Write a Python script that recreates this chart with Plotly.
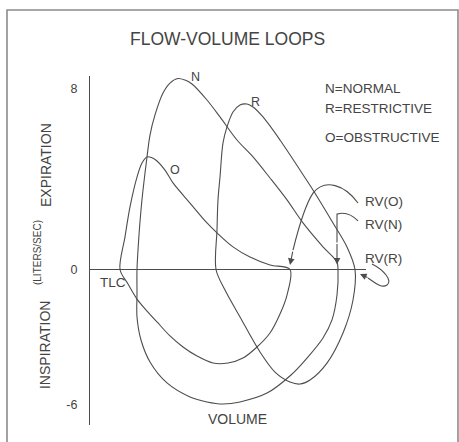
import plotly.graph_objects as go

# ---- data (volume in litres from the y-axis, flow in L/s) ----
# Normal loop
n_exp_volume = [1.175, 1.225, 1.275, 1.325, 1.425, 1.5, 1.625, 1.825, 2.0, 2.2, 2.375, 2.55,
                2.925, 3.25, 3.675, 4.075, 4.5, 4.925, 5.325, 5.825, 6.175, 6.2]
n_exp_flow = [0, 1.53, 2.63, 3.52, 4.98, 5.95, 6.84, 7.81, 8.25, 8.45, 8.38, 8.21,
              7.5, 6.75, 5.73, 4.98, 4.05, 3.08, 2.06, 1.0, 0.33, 0]
n_insp_volume = [6.2, 6.175, 6.05, 5.825, 5.425, 5.025, 4.425, 3.75, 3.325, 2.925, 2.5,
                 1.925, 1.5, 1.275, 1.175, 1.175, 1.175]
n_insp_flow = [0, -1.13, -2.23, -3.03, -3.92, -4.67, -5.47, -5.86, -5.95, -5.86, -5.64,
               -5.02, -4.09, -3.12, -2.1, -1.04, 0]

# Restrictive loop
r_exp_volume = [3.15, 3.175, 3.2, 3.25, 3.325, 3.425, 3.575, 3.75, 3.925, 4.075, 4.325,
                4.75, 5.25, 5.575, 6.075, 6.425, 6.625]
r_exp_flow = [0, 1.75, 3.08, 4.09, 5.6, 6.31, 6.97, 7.28, 7.32, 7.19, 6.75,
              5.73, 4.4, 3.52, 2.06, 1.0, 0]
r_insp_volume = [6.625, 6.575, 6.325, 5.925, 5.5, 5.25, 5.0, 4.625, 4.25, 3.75, 3.375, 3.15]
r_insp_flow = [0, -1.35, -2.81, -4.14, -4.89, -5.07, -4.98, -4.54, -3.65, -2.1, -0.91, 0]

# Obstructive loop
o_exp_volume = [0.75, 0.875, 1.0, 1.175, 1.3, 1.425, 1.55, 1.675, 1.875, 2.075, 2.5,
                2.925, 3.175, 3.575, 4.0, 4.5, 5.0]
o_exp_flow = [0, 1.44, 2.77, 4.09, 4.71, 4.98, 4.94, 4.8, 4.4, 3.83, 2.94,
              2.06, 1.62, 1.0, 0.55, 0.2, 0]
o_insp_volume = [5.0, 4.925, 4.75, 4.5, 4.175, 3.825, 3.45, 3.075, 2.675, 2.325, 2.0,
                 1.675, 1.425, 1.175, 0.95, 0.75]
o_insp_flow = [0, -1.13, -1.97, -2.81, -3.43, -3.92, -4.14, -4.14, -3.83, -3.43, -2.94,
               -2.32, -1.84, -1.31, -0.64, 0]

y_tick_values = [8, 0, -6]
y_tick_labels = ["8", "0", "-6"]

loops = [
    ("N", n_exp_volume, n_exp_flow, n_insp_volume, n_insp_flow),
    ("R", r_exp_volume, r_exp_flow, r_insp_volume, r_insp_flow),
    ("O", o_exp_volume, o_exp_flow, o_insp_volume, o_insp_flow),
]

LINE = "#4d4d4d"
TEXT = "#444444"
FONT = "Liberation Sans, Arial, sans-serif"

fig = go.Figure()
for name, ev, ef, iv, inf in loops:
    fig.add_trace(go.Scatter(
        x=ev + iv[1:], y=ef + inf[1:], mode="lines", name=name,
        line=dict(color=LINE, width=1.1, shape="spline", smoothing=0.9),
        showlegend=False, hoverinfo="skip",
    ))

ann = []
def txt(text, x, y, size=13.5, xref="paper", yref="paper", xanchor="center", angle=0):
    ann.append(dict(text=text, x=x, y=y, xref=xref, yref=yref, showarrow=False,
                    xanchor=xanchor, yanchor="middle", textangle=angle,
                    font=dict(family=FONT, size=size, color=TEXT)))

txt("FLOW-VOLUME LOOPS", 0.4964, 1.106, size=17.5)
txt("N=NORMAL", 0.8442, 0.9656, xanchor="left")
txt("R=RESTRICTIVE", 0.8442, 0.9083, xanchor="left")
txt("O=OBSTRUCTIVE", 0.8442, 0.8252, xanchor="left")
txt("RV(O)", 0.9891, 0.639, xanchor="left")
txt("RV(N)", 0.9891, 0.5731, xanchor="left")
txt("RV(R)", 0.9891, 0.4785, xanchor="left")
txt("TLC", 0.0833, 0.4097)
txt("VOLUME", 0.536, 0.0172, size=14)
txt("EXPIRATION", -0.1594, 0.745, size=14, angle=-90)
txt("(LITERS/SEC)", -0.192, 0.4928, size=10, angle=-90)
txt("INSPIRATION", -0.163, 0.2292, size=14, angle=-90)
txt("N", 2.625, 8.5, size=12.5, xref="x", yref="y")
txt("R", 4.125, 7.41, size=12.5, xref="x", yref="y")
txt("O", 2.125, 4.4, size=12.5, xref="x", yref="y")

def arrow(x, y, ax, ay):
    ann.append(dict(text="", x=x, y=y, ax=ax, ay=ay, xref="x", yref="y", axref="x", ayref="y",
                    showarrow=True, arrowhead=2, arrowsize=1.2, arrowwidth=1.1,
                    arrowcolor=LINE, standoff=0))

arrow(5.0, 0.2, 5.075, 0.86)      # RV(O)
arrow(6.175, 0.22, 6.175, 1.2)    # RV(N)
arrow(6.75, -0.2, 6.975, -0.38)   # RV(R)

shapes = [
    # frame (open at bottom)
    dict(type="path", xref="paper", yref="paper",
         path="M -0.3007,-0.06 L -0.3007,1.1891 L 1.3333,1.1891 L 1.3333,-0.06",
         line=dict(color="#8c8c8c", width=1.6)),
    # RV(O) leader
    dict(type="path", xref="x", yref="y",
         path="M 6.7,2.94 C 6.375,3.74 5.875,4.05 5.575,3.38 C 5.375,2.85 5.2,1.75 5.075,0.86",
         line=dict(color=LINE, width=1.1)),
    # RV(N) leader
    dict(type="path", xref="x", yref="y",
         path="M 6.7,2.15 Q 6.45,2.6 6.175,2.45 L 6.175,1.2",
         line=dict(color=LINE, width=1.1)),
    # RV(R) leader
    dict(type="path", xref="paper", yref="paper",
         path="M 1.0217,0.4613 C 1.0652,0.4441 1.0978,0.4126 1.0761,0.4011 "
              "C 1.0543,0.3897 1.0254,0.4126 1.0072,0.4212",
         line=dict(color=LINE, width=1.1)),
]

fig.update_layout(
    width=459, height=442,
    margin=dict(l=90, r=93, t=76, b=17, autoexpand=False),
    paper_bgcolor="white", plot_bgcolor="white",
    font=dict(family=FONT, color=TEXT),
    annotations=ann, shapes=shapes,
    xaxis=dict(range=[0, 6.9], showgrid=False, showticklabels=False, ticks="",
               zeroline=False, showline=False, fixedrange=True),
    yaxis=dict(range=[-6.881, 8.562], showgrid=False, tickvals=y_tick_values,
               ticktext=y_tick_labels, ticks="", ticklabelstandoff=9,
               tickfont=dict(family=FONT, size=12.5, color=TEXT),
               zeroline=True, zerolinecolor=LINE, zerolinewidth=1.2,
               showline=True, linecolor=LINE, linewidth=1.2, fixedrange=True),
)

fig.write_html(
    "out.html",
    config={"displayModeBar": False},
    post_script="document.body.style.margin='0';document.body.style.overflow='hidden';",
)
